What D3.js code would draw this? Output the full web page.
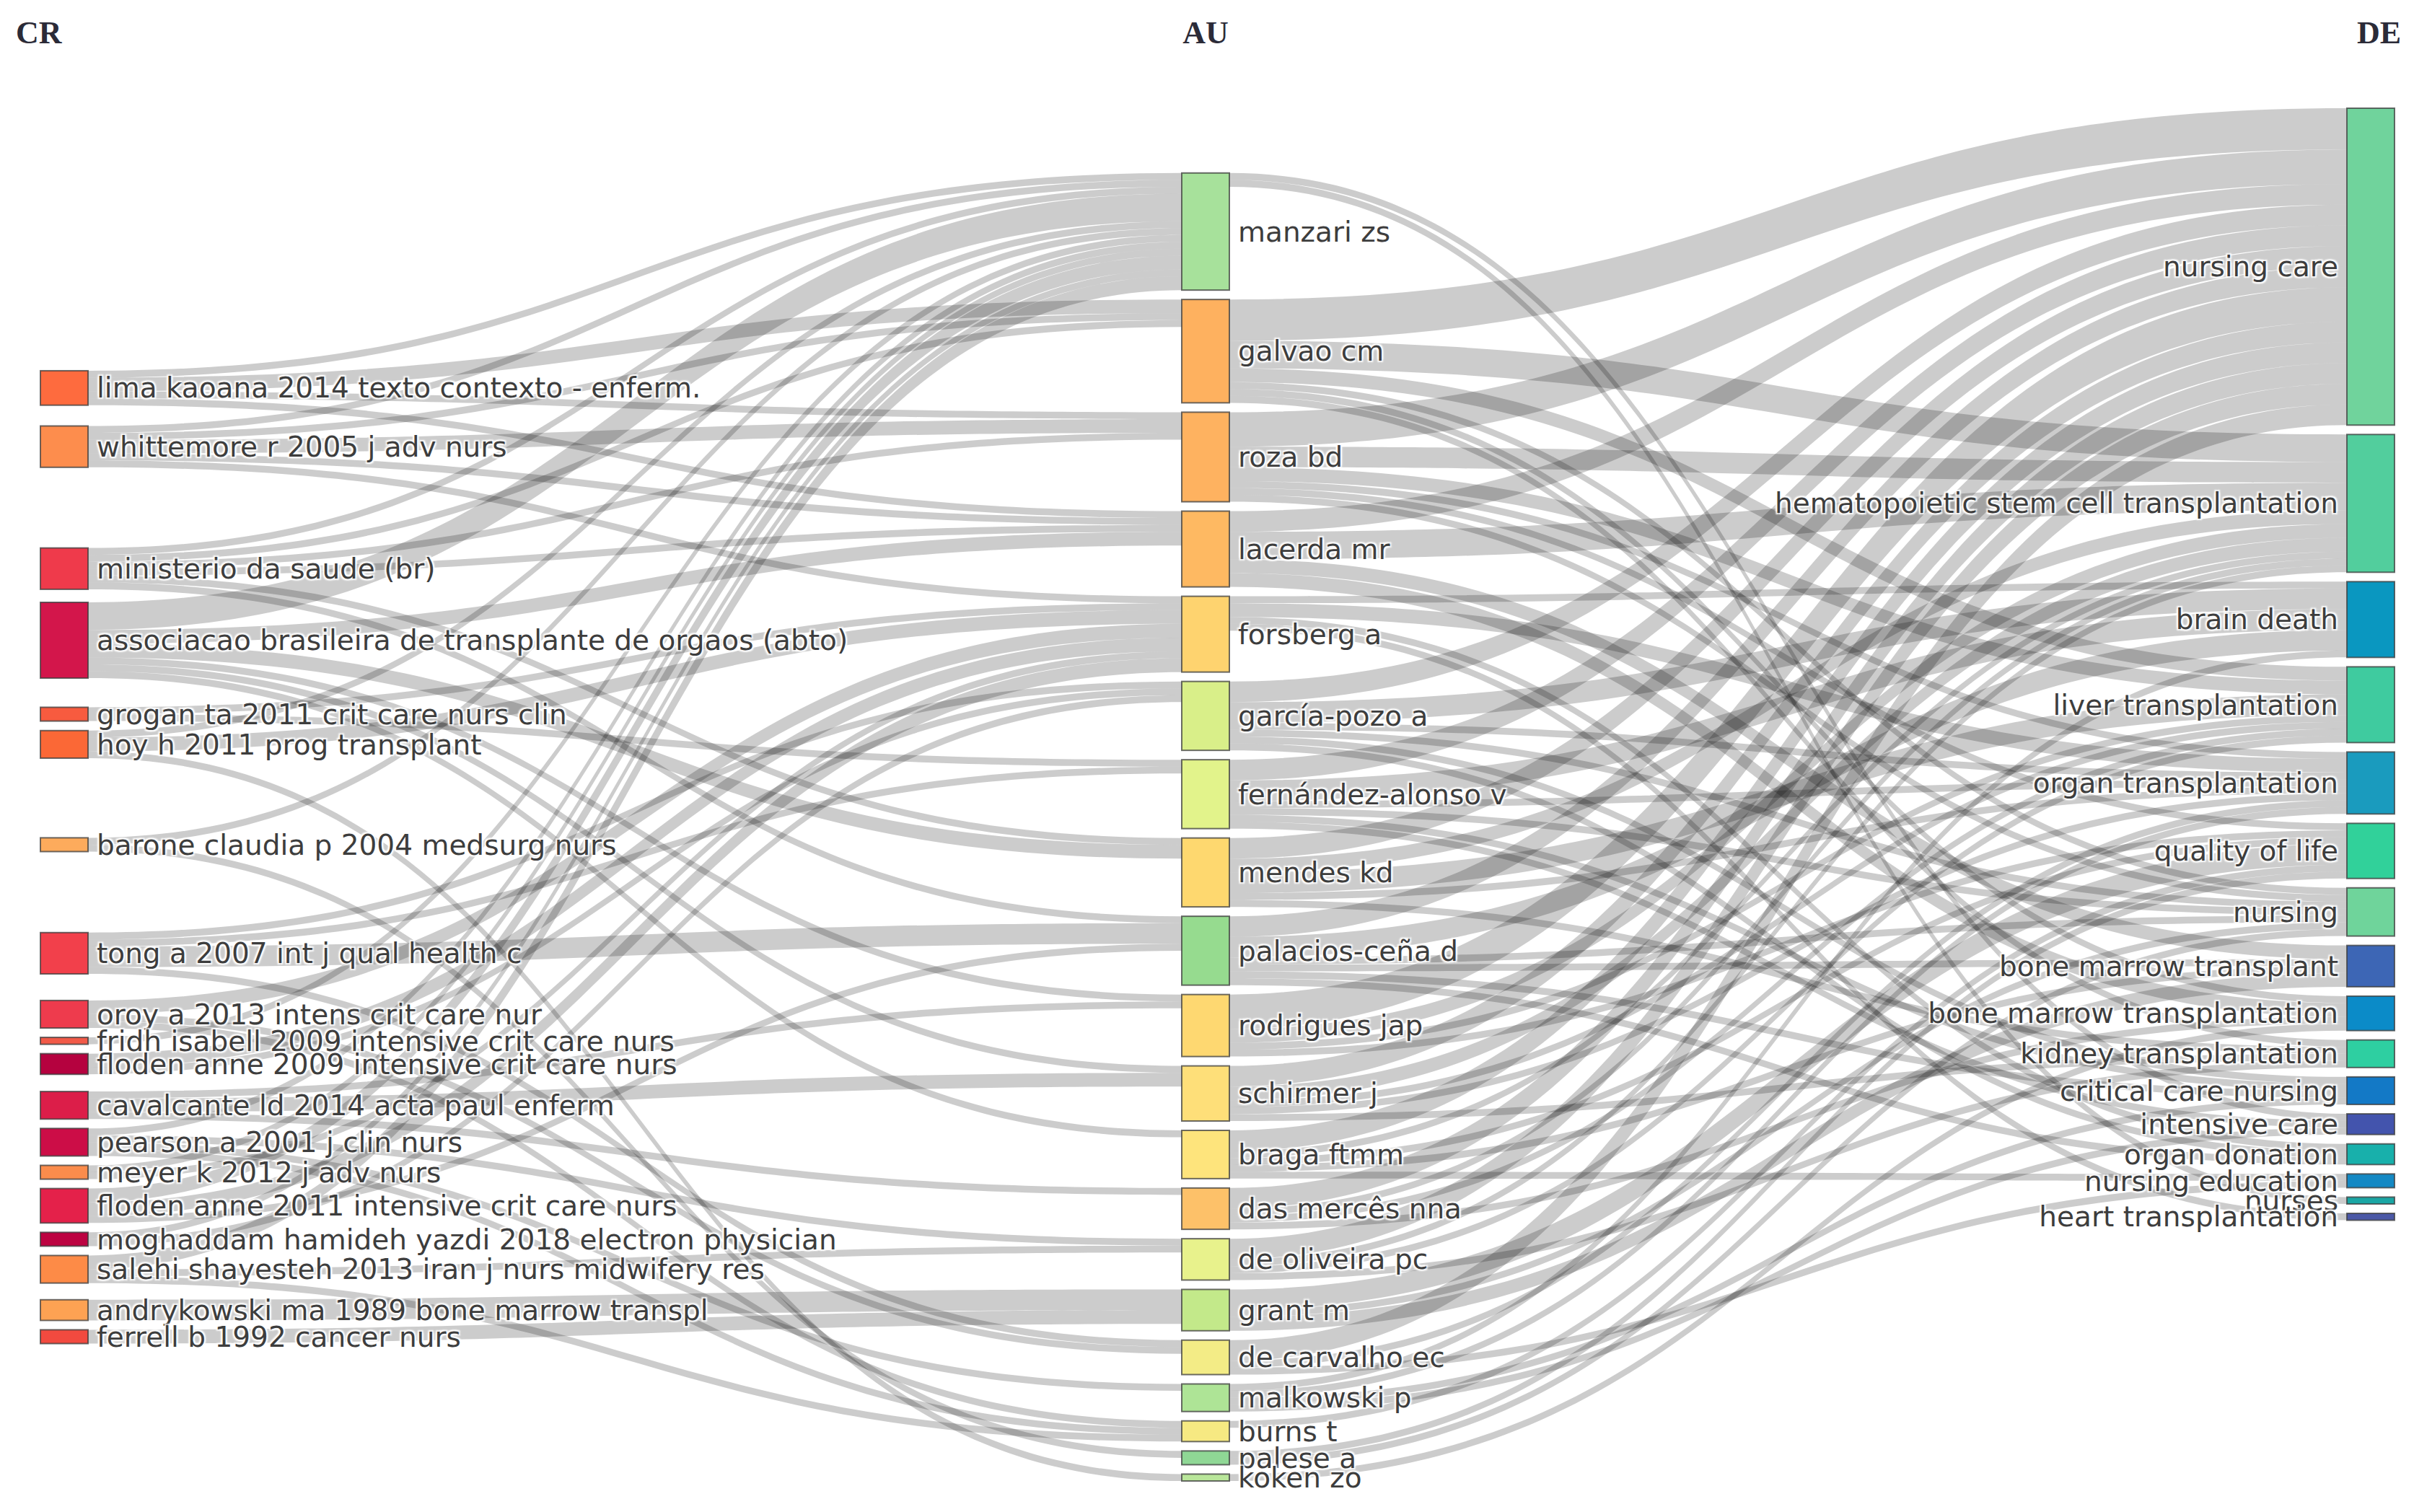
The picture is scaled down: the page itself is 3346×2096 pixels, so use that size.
<!DOCTYPE html>
<html><head><meta charset="utf-8">
<script src="https://cdn.jsdelivr.net/npm/d3@7"></script>
<style>
body{margin:0;background:#fff;}
text.lbl{font-family:"DejaVu Sans",Verdana,sans-serif;font-size:39px;fill:#3d3d3d;
 text-shadow:2px 2px 2px #fff,-2px -2px 2px #fff,2px -2px 2px #fff,-2px 2px 2px #fff;}
text.ttl{font-family:"Liberation Serif","Times New Roman",serif;font-weight:bold;font-size:44px;fill:#2b2b38;}
</style>
</head><body>
<svg id="chart" width="3346" height="2096"></svg>
<script>
// ---------------- DATA ----------------
const columnTitles = ["CR", "AU", "DE"];

const crNodes = ["lima kaoana 2014 texto contexto - enferm.","whittemore r 2005 j adv nurs","ministerio da saude (br)",
 "associacao brasileira de transplante de orgaos (abto)","grogan ta 2011 crit care nurs clin","hoy h 2011 prog transplant",
 "barone claudia p 2004 medsurg nurs","tong a 2007 int j qual health c","oroy a 2013 intens crit care nur",
 "fridh isabell 2009 intensive crit care nurs","floden anne 2009 intensive crit care nurs","cavalcante ld 2014 acta paul enferm",
 "pearson a 2001 j clin nurs","meyer k 2012 j adv nurs","floden anne 2011 intensive crit care nurs",
 "moghaddam hamideh yazdi 2018 electron physician","salehi shayesteh 2013 iran j nurs midwifery res",
 "andrykowski ma 1989 bone marrow transpl","ferrell b 1992 cancer nurs"];
const crColors = ["#fe6b3e","#fd8d4d","#ef3a4b","#d3164b","#f75b3f","#fb6836","#fdab5c","#f2404b","#ee3b4d",
 "#f25a48","#b5023f","#dc1e49","#cc0d47","#fb8c4c","#e4214a","#bc0341","#fd8b47","#fda253","#f24a3f"];

const auNodes = ["manzari zs","galvao cm","roza bd","lacerda mr","forsberg a","garcía-pozo a","fernández-alonso v",
 "mendes kd","palacios-ceña d","rodrigues jap","schirmer j","braga ftmm","das mercês nna","de oliveira pc","grant m",
 "de carvalho ec","malkowski p","burns t","palese a","koken zo"];
const auColors = ["#a7e19b","#feb15f","#feb260","#feb962","#fed36f","#d9ef89","#e2f38b","#fed86f","#96db8f","#fed871",
 "#fedf79","#fee47c","#fdc169","#e8f28c","#c3e98a","#f3ec86","#aee496","#f6e982","#8fd795","#b9e69a"];

const deNodes = ["nursing care","hematopoietic stem cell transplantation","brain death","liver transplantation",
 "organ transplantation","quality of life","nursing","bone marrow transplant","bone marrow transplantation",
 "kidney transplantation","critical care nursing","intensive care","organ donation","nursing education","nurses",
 "heart transplantation"];
const deColors = ["#70d39c","#52ce9d","#0a97c0","#3fcb9f","#1a9bbe","#31d19a","#6fd49b","#3d66b5","#0b8bc8",
 "#2ecfa1","#1379c6","#4354ad","#18b0ab","#1489c4","#1aa6a4","#4b58a6"];

// links CR -> AU : [cited reference, author, value]
const crAuLinks = [
 ["lima kaoana 2014 texto contexto - enferm.","galvao cm",2],["lima kaoana 2014 texto contexto - enferm.","lacerda mr",1],
 ["lima kaoana 2014 texto contexto - enferm.","roza bd",1],["lima kaoana 2014 texto contexto - enferm.","manzari zs",1],
 ["whittemore r 2005 j adv nurs","galvao cm",1],["whittemore r 2005 j adv nurs","roza bd",2],["whittemore r 2005 j adv nurs","lacerda mr",1],
 ["whittemore r 2005 j adv nurs","forsberg a",1],["whittemore r 2005 j adv nurs","manzari zs",1],
 ["ministerio da saude (br)","galvao cm",1],["ministerio da saude (br)","roza bd",1],["ministerio da saude (br)","lacerda mr",1],
 ["ministerio da saude (br)","mendes kd",1],["ministerio da saude (br)","palacios-ceña d",1],["ministerio da saude (br)","manzari zs",1],
 ["associacao brasileira de transplante de orgaos (abto)","manzari zs",4],["associacao brasileira de transplante de orgaos (abto)","lacerda mr",2],
 ["associacao brasileira de transplante de orgaos (abto)","mendes kd",2],["associacao brasileira de transplante de orgaos (abto)","schirmer j",1],
 ["associacao brasileira de transplante de orgaos (abto)","rodrigues jap",1],["associacao brasileira de transplante de orgaos (abto)","braga ftmm",1],
 ["grogan ta 2011 crit care nurs clin","forsberg a",1],["grogan ta 2011 crit care nurs clin","fernández-alonso v",1],
 ["hoy h 2011 prog transplant","forsberg a",2],["hoy h 2011 prog transplant","manzari zs",1],["hoy h 2011 prog transplant","koken zo",1],
 ["barone claudia p 2004 medsurg nurs","manzari zs",1],["barone claudia p 2004 medsurg nurs","palese a",1],
 ["tong a 2007 int j qual health c","palacios-ceña d",3],["tong a 2007 int j qual health c","fernández-alonso v",1],
 ["tong a 2007 int j qual health c","garcía-pozo a",1],["tong a 2007 int j qual health c","de carvalho ec",1],
 ["oroy a 2013 intens crit care nur","forsberg a",2],["oroy a 2013 intens crit care nur","burns t",1],["oroy a 2013 intens crit care nur","de carvalho ec",1],
 ["fridh isabell 2009 intensive crit care nurs","manzari zs",1],
 ["floden anne 2009 intensive crit care nurs","forsberg a",2],["floden anne 2009 intensive crit care nurs","garcía-pozo a",1],
 ["cavalcante ld 2014 acta paul enferm","rodrigues jap",1],["cavalcante ld 2014 acta paul enferm","schirmer j",2],["cavalcante ld 2014 acta paul enferm","das mercês nna",1],
 ["pearson a 2001 j clin nurs","manzari zs",1],["pearson a 2001 j clin nurs","burns t",1],["pearson a 2001 j clin nurs","de oliveira pc",1],["pearson a 2001 j clin nurs","malkowski p",1],
 ["meyer k 2012 j adv nurs","forsberg a",1],["meyer k 2012 j adv nurs","manzari zs",1],
 ["floden anne 2011 intensive crit care nurs","forsberg a",2],["floden anne 2011 intensive crit care nurs","manzari zs",2],["floden anne 2011 intensive crit care nurs","palacios-ceña d",1],
 ["moghaddam hamideh yazdi 2018 electron physician","manzari zs",1],["moghaddam hamideh yazdi 2018 electron physician","garcía-pozo a",1],
 ["salehi shayesteh 2013 iran j nurs midwifery res","manzari zs",2],["salehi shayesteh 2013 iran j nurs midwifery res","burns t",1],
 ["salehi shayesteh 2013 iran j nurs midwifery res","de oliveira pc",1],
 ["andrykowski ma 1989 bone marrow transpl","grant m",3],["ferrell b 1992 cancer nurs","grant m",2]
];

// links AU -> DE : [author, keyword, value]
const auDeLinks = [
 ["manzari zs","intensive care",1],["manzari zs","nurses",1],
 ["galvao cm","nursing care",6],["galvao cm","hematopoietic stem cell transplantation",4],["galvao cm","liver transplantation",2],
 ["galvao cm","bone marrow transplantation",1],["galvao cm","nursing",1],["galvao cm","kidney transplantation",1],
 ["roza bd","nursing care",5],["roza bd","hematopoietic stem cell transplantation",3],["roza bd","liver transplantation",2],
 ["roza bd","organ transplantation",1],["roza bd","quality of life",1],["roza bd","nursing",1],
 ["lacerda mr","nursing care",3],["lacerda mr","hematopoietic stem cell transplantation",4],["lacerda mr","bone marrow transplant",2],
 ["lacerda mr","bone marrow transplantation",2],
 ["forsberg a","organ transplantation",2],["forsberg a","brain death",1],["forsberg a","organ donation",1],["forsberg a","heart transplantation",1],
 ["garcía-pozo a","brain death",3],["garcía-pozo a","nursing care",3],["garcía-pozo a","critical care nursing",1],
 ["garcía-pozo a","organ donation",1],["garcía-pozo a","organ transplantation",1],["garcía-pozo a","nursing",1],
 ["fernández-alonso v","brain death",3],["fernández-alonso v","nursing care",3],["fernández-alonso v","organ transplantation",1],
 ["fernández-alonso v","critical care nursing",1],["fernández-alonso v","nursing",1],["fernández-alonso v","intensive care",1],
 ["mendes kd","nursing care",3],["mendes kd","liver transplantation",3],["mendes kd","hematopoietic stem cell transplantation",2],
 ["mendes kd","kidney transplantation",1],["mendes kd","organ transplantation",1],
 ["palacios-ceña d","brain death",3],["palacios-ceña d","nursing care",3],["palacios-ceña d","bone marrow transplant",1],
 ["palacios-ceña d","critical care nursing",1],["palacios-ceña d","organ donation",1],["palacios-ceña d","nursing",1],
 ["rodrigues jap","nursing care",5],["rodrigues jap","hematopoietic stem cell transplantation",2],["rodrigues jap","liver transplantation",1],
 ["rodrigues jap","quality of life",1],
 ["schirmer j","nursing care",3],["schirmer j","hematopoietic stem cell transplantation",2],["schirmer j","liver transplantation",1],
 ["schirmer j","kidney transplantation",1],["schirmer j","organ transplantation",1],
 ["braga ftmm","nursing care",3],["braga ftmm","hematopoietic stem cell transplantation",1],["braga ftmm","bone marrow transplant",1],
 ["braga ftmm","quality of life",1],["braga ftmm","nursing education",1],
 ["das mercês nna","nursing care",3],["das mercês nna","hematopoietic stem cell transplantation",1],["das mercês nna","liver transplantation",1],
 ["das mercês nna","bone marrow transplantation",1],
 ["de oliveira pc","nursing care",3],["de oliveira pc","hematopoietic stem cell transplantation",1],["de oliveira pc","liver transplantation",1],
 ["de oliveira pc","kidney transplantation",1],
 ["grant m","quality of life",3],["grant m","bone marrow transplant",2],["grant m","nursing",1],
 ["de carvalho ec","nursing care",3],["de carvalho ec","organ transplantation",1],["de carvalho ec","nursing education",1],
 ["malkowski p","brain death",1],["malkowski p","critical care nursing",1],["malkowski p","organ transplantation",1],["malkowski p","intensive care",1],
 ["burns t","quality of life",1],
 ["palese a","nursing",1],["palese a","quality of life",1],
 ["koken zo","bone marrow transplantation",1]
];

// ---------------- LAYOUT ----------------
const W = 3346, H = 2096;
const colX = [56, 1638, 3253];
const nodeW = 66;
const pad = 13;
const extentTop = 150, extentBottom = 2053;
const ky = d3.scaleLinear().domain([0, 1]).range([0, 9.55]);

const cols = [crNodes, auNodes, deNodes];
const colColors = [crColors, auColors, deColors];
const nodes = [];
const byKey = new Map();
cols.forEach((arr, c) => arr.forEach((name, i) => {
  const n = {name, col: c, color: colColors[c][i], order: i, inV: 0, outV: 0, sourceLinks: [], targetLinks: []};
  nodes.push(n); byKey.set(c + "|" + name, n);
}));
const links = [];
function addLinks(arr, c) {
  arr.forEach(([s, t, v]) => {
    const S = byKey.get(c + "|" + s), T = byKey.get((c + 1) + "|" + t);
    const l = {source: S, target: T, value: v};
    S.outV += v; T.inV += v; S.sourceLinks.push(l); T.targetLinks.push(l); links.push(l);
  });
}
addLinks(crAuLinks, 0); addLinks(auDeLinks, 1);
nodes.forEach(n => { n.value = Math.max(n.inV, n.outV); n.h = ky(n.value); n.x0 = colX[n.col]; n.x1 = n.x0 + nodeW; });
const colNodes = [0, 1, 2].map(c => nodes.filter(n => n.col === c));

// right column: stacked from top
{ let y = extentTop; colNodes[2].forEach(n => { n.y0 = y; n.y1 = y + n.h; y = n.y1 + pad; }); }
// middle column: stacked against bottom
{ const tot = d3.sum(colNodes[1], n => n.h) + (colNodes[1].length - 1) * pad;
  let y = extentBottom - tot; colNodes[1].forEach(n => { n.y0 = y; n.y1 = y + n.h; y = n.y1 + pad; }); }
// left column: relax toward weighted centre of targets, then resolve collisions keeping order
{ const arr = colNodes[0];
  arr.forEach(n => {
    const c = d3.sum(n.sourceLinks, l => l.value * (l.target.y0 + l.target.y1) / 2) / d3.sum(n.sourceLinks, l => l.value);
    n.y0 = c - n.h / 2; n.y1 = n.y0 + n.h;
  });
  let y = extentTop;
  arr.forEach(n => { if (n.y0 < y) { n.y0 = y; n.y1 = y + n.h; } y = n.y1 + pad; });
  y = extentBottom;
  for (let i = arr.length - 1; i >= 0; i--) { const n = arr[i]; if (n.y1 > y) { n.y1 = y; n.y0 = y - n.h; } y = n.y0 - pad; }
}
// link attachment positions
nodes.forEach(n => {
  n.sourceLinks.sort((a, b) => a.target.y0 - b.target.y0);
  n.targetLinks.sort((a, b) => a.source.y0 - b.source.y0);
  let y = n.y0; n.sourceLinks.forEach(l => { l.sy0 = y; y += ky(l.value); l.sy1 = y; });
  y = n.y0; n.targetLinks.forEach(l => { l.ty0 = y; y += ky(l.value); l.ty1 = y; });
});

// ---------------- DRAW ----------------
const svg = d3.select("#chart");
svg.append("rect").attr("width", W).attr("height", H).attr("fill", "#fff");

function bandPath(l) {
  const x0 = l.source.x1, x1 = l.target.x0, xm = d3.interpolateNumber(x0, x1)(0.5);
  const p = d3.path();
  p.moveTo(x0, l.sy0);
  p.bezierCurveTo(xm, l.sy0, xm, l.ty0, x1, l.ty0);
  p.lineTo(x1, l.ty1);
  p.bezierCurveTo(xm, l.ty1, xm, l.sy1, x0, l.sy1);
  p.closePath();
  return p.toString();
}
svg.append("g").selectAll("path").data(links).join("path")
  .attr("d", bandPath).attr("fill", "rgba(0,0,0,0.2)");

svg.append("g").selectAll("rect").data(nodes).join("rect")
  .attr("x", d => d.x0).attr("y", d => d.y0).attr("width", nodeW).attr("height", d => Math.max(1, d.y1 - d.y0))
  .attr("fill", d => d.color).attr("stroke", "rgba(60,60,60,0.75)").attr("stroke-width", 2);

svg.append("g").selectAll("text").data(nodes).join("text")
  .attr("class", "lbl")
  .attr("x", d => d.col === 2 ? d.x0 - 12 : d.x1 + 12)
  .attr("y", d => (d.y0 + d.y1) / 2)
  .attr("dy", "0.35em")
  .attr("text-anchor", d => d.col === 2 ? "end" : "start")
  .text(d => d.name);

const titleX = [22, colX[1] + nodeW / 2, colX[2] + nodeW + 9];
const titleAnchor = ["start", "middle", "end"];
svg.append("g").selectAll("text").data(columnTitles).join("text")
  .attr("class", "ttl").attr("x", (d, i) => titleX[i]).attr("y", 60)
  .attr("text-anchor", (d, i) => titleAnchor[i]).text(d => d);
</script>
</body></html>
